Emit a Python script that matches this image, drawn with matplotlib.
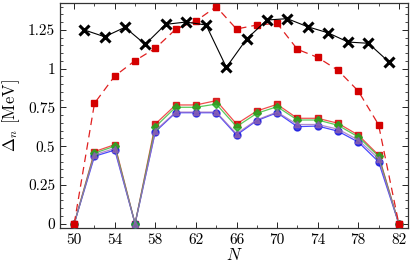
import matplotlib
matplotlib.use("Agg")
import matplotlib.pyplot as plt
from matplotlib.ticker import MultipleLocator, FixedLocator, FuncFormatter

plt.rcParams['font.family'] = 'serif'
plt.rcParams['font.serif'] = ['cmr10']
plt.rcParams['mathtext.fontset'] = 'cm'
plt.rcParams['axes.unicode_minus'] = False

N_odd = [51, 53, 55, 57, 59, 61, 63, 65, 67, 69, 71, 73, 75, 77, 79, 81]
exp_odd = [1.25, 1.206, 1.267, 1.157, 1.286, 1.301, 1.282, 1.009, 1.192, 1.314,
           1.323, 1.271, 1.232, 1.172, 1.164, 1.045]

N_even = [50, 52, 54, 56, 58, 60, 62, 64, 66, 68, 70, 72, 74, 76, 78, 80, 82]
dashed_red = [0.0, 0.777, 0.953, 1.052, 1.132, 1.254, 1.308, 1.40, 1.256, 1.282,
              1.293, 1.125, 1.073, 0.99, 0.856, 0.639, 0.0]
red_sq = [0.0, 0.465, 0.51, 0.0, 0.643, 0.766, 0.766, 0.794, 0.643, 0.727,
          0.77, 0.68, 0.68, 0.648, 0.572, 0.443, 0.0]
green_d = [0.0, 0.455, 0.50, 0.0, 0.625, 0.751, 0.751, 0.772, 0.626, 0.712,
           0.755, 0.669, 0.669, 0.635, 0.56, 0.435, 0.0]
purple_t = [0.0, 0.445, 0.485, 0.0, 0.60, 0.72, 0.72, 0.72, 0.58, 0.67,
            0.72, 0.64, 0.64, 0.61, 0.54, 0.42, 0.0]
blue_c = [0.0, 0.435, 0.475, 0.0, 0.594, 0.716, 0.716, 0.716, 0.572, 0.665,
          0.716, 0.626, 0.63, 0.597, 0.527, 0.40, 0.0]

x_ticks = [50, 54, 58, 62, 66, 70, 74, 78, 82]

fig = plt.figure(figsize=(4.15, 2.65), dpi=100)
ax = fig.add_axes([0.1446, 0.1396, 0.8384, 0.8491])

ax.plot(N_even, red_sq, '-', color='#ee2222', lw=0.9, alpha=0.8,
        marker='s', ms=4.5, mfc='#d40000', mec='#d40000', zorder=2)
ax.plot(N_even, blue_c, '-', color='#1a1aff', lw=0.9, alpha=0.8,
        marker='o', ms=5, mfc='#1010dd', mec='#1010dd', zorder=3)
ax.plot(N_even, green_d, '-', color='#33bb33', lw=0.9, alpha=0.8,
        marker='D', ms=4.2, mfc='#22aa22', mec='#22aa22', zorder=4)
ax.plot(N_even, purple_t, '-', color='#a070c0', lw=0.9, alpha=0.8,
        marker='^', ms=5, mfc='#8a5fb0', mec='#8a5fb0', zorder=5)

ax.plot(N_even, dashed_red, '--', color='#e02020', lw=0.9, dashes=(6, 4),
        marker='s', ms=4.5, mfc='#d40000', mec='#d40000', zorder=6)
ax.plot(N_odd, exp_odd, '-', color='black', lw=0.8,
        marker='x', ms=6.5, mew=2.2, mec='black', zorder=7)

ax.set_xlim(48.6, 82.9)
ax.set_ylim(-0.028, 1.424)
ax.xaxis.set_major_locator(FixedLocator(x_ticks))
ax.xaxis.set_minor_locator(MultipleLocator(2))
ax.yaxis.set_major_locator(MultipleLocator(0.25))
ax.yaxis.set_minor_locator(MultipleLocator(0.05))

def yfmt(v, pos):
    s = ('%.2f' % v).rstrip('0').rstrip('.')
    return s
ax.yaxis.set_major_formatter(FuncFormatter(yfmt))

ax.tick_params(which='both', direction='in', top=True, right=True, labelsize=11)
ax.tick_params(which='major', length=4, width=0.6)
ax.tick_params(which='minor', length=2.2, width=0.5)
for sp in ax.spines.values():
    sp.set_linewidth(0.9)
    sp.set_color('#333333')

ax.set_xlabel('$N$', fontsize=12, labelpad=0)
ax.set_ylabel(r'$\Delta_n$ [MeV]', fontsize=12, labelpad=4)

fig.savefig('out.png', dpi=100)
